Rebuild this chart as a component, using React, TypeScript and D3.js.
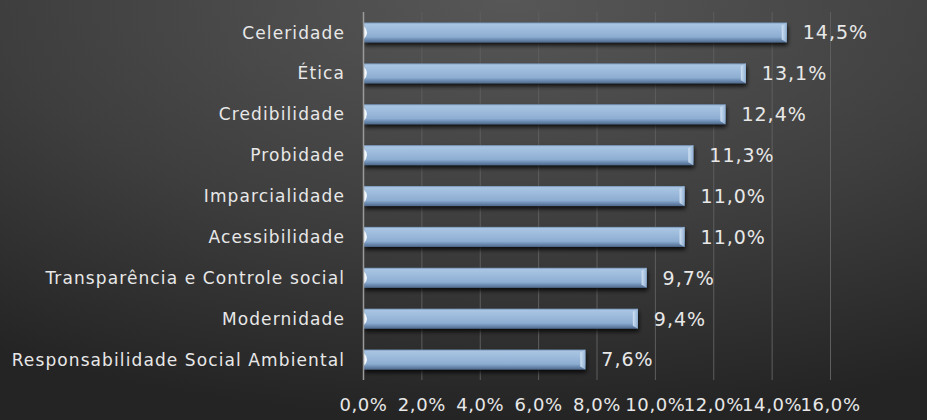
import React from "react";
import * as d3 from "d3";

const categories = [
  "Celeridade",
  "Ética",
  "Credibilidade",
  "Probidade",
  "Imparcialidade",
  "Acessibilidade",
  "Transparência e Controle social",
  "Modernidade",
  "Responsabilidade Social Ambiental",
];
const values = [14.5, 13.1, 12.4, 11.3, 11.0, 11.0, 9.7, 9.4, 7.6];
const ticks = [0, 2, 4, 6, 8, 10, 12, 14, 16];

const W = 927;
const H = 420;
const FONT = "'DejaVu Sans', sans-serif";
const fmt = (v: number) => v.toFixed(1).replace(".", ",") + "%";

export default function App() {
  const x = d3.scaleLinear().domain([0, 16]).range([363.5, 830.5]);
  const y = d3.scaleBand().domain(categories).range([12, 380]).paddingInner(0.51).paddingOuter(0.255);
  const bh = y.bandwidth();
  return (
    <svg width={W} height={H} style={{ position: "absolute", left: 0, top: 0 }}>
      <defs>
        <radialGradient id="bg" cx="0.55" cy="0.0" r="1.0" gradientUnits="objectBoundingBox">
          <stop offset="0" stopColor="#575757" />
          <stop offset="0.55" stopColor="#3e3e3e" />
          <stop offset="1" stopColor="#242424" />
        </radialGradient>
        <linearGradient id="bar" x1="0" y1="0" x2="0" y2="1">
          <stop offset="0" stopColor="#6f8cae" />
          <stop offset="0.08" stopColor="#a9c5e3" />
          <stop offset="0.5" stopColor="#97b6d8" />
          <stop offset="0.72" stopColor="#8dadd1" />
          <stop offset="0.85" stopColor="#6e8db3" />
          <stop offset="1" stopColor="#4f6a8c" />
        </linearGradient>
        <linearGradient id="cap" x1="0" y1="0" x2="1" y2="0">
          <stop offset="0" stopColor="#d7e6f5" />
          <stop offset="1" stopColor="#8fb0d4" />
        </linearGradient>
        <filter id="sh" x="-5%" y="-30%" width="115%" height="190%">
          <feGaussianBlur in="SourceAlpha" stdDeviation="2" />
          <feOffset dx="1" dy="3" result="b" />
          <feComponentTransfer>
            <feFuncA type="linear" slope="0.8" />
          </feComponentTransfer>
          <feMerge>
            <feMergeNode />
            <feMergeNode in="SourceGraphic" />
          </feMerge>
        </filter>
      </defs>
      <rect x={0} y={0} width={W} height={H} fill="url(#bg)" />
      {ticks.slice(1).map((t) => (
        <line key={t} x1={x(t)} x2={x(t)} y1={12} y2={380} stroke="#5e5e5e" strokeWidth={1} />
      ))}
      {categories.map((c, i) => {
        const y0 = y(c)!;
        const x1 = x(values[i]);
        const w = x1 - x(0);
        return (
          <g key={c}>
            <g filter="url(#sh)">
              <rect x={x(0)} y={y0} width={w} height={bh} fill="url(#bar)" />
            </g>
            <polygon
              points={`${x1 - 5},${y0 + 3} ${x1},${y0} ${x1},${y0 + bh} ${x1 - 5},${y0 + bh - 3}`}
              fill="url(#cap)"
              opacity={0.9}
            />
            <path
              d={`M${x(0)},${y0 + 3} Q${x(0) + 7},${y0 + bh / 2} ${x(0)},${y0 + bh - 3} Z`}
              fill="#ffffff"
              opacity={0.9}
            />
            <text
              x={x1 + 16}
              y={y0 + bh / 2}
              dy="0.36em"
              fill="#e8e8e8"
              fontFamily={FONT}
              fontSize={19}
              letterSpacing={1}
            >
              {fmt(values[i])}
            </text>
            <text
              x={345}
              y={y0 + bh / 2}
              dy="0.36em"
              textAnchor="end"
              fill="#e8e8e8"
              fontFamily={FONT}
              fontSize={17}
              letterSpacing={1.1}
            >
              {c}
            </text>
          </g>
        );
      })}
      <line x1={x(0)} x2={x(0)} y1={12} y2={380} stroke="#9a9a9a" strokeWidth={1.5} />
      {ticks.map((t) => (
        <text
          key={t}
          x={x(t)}
          y={405}
          dy="0.36em"
          textAnchor="middle"
          fill="#e8e8e8"
          fontFamily={FONT}
          fontSize={18}
          letterSpacing={0.6}
        >
          {fmt(t)}
        </text>
      ))}
    </svg>
  );
}
